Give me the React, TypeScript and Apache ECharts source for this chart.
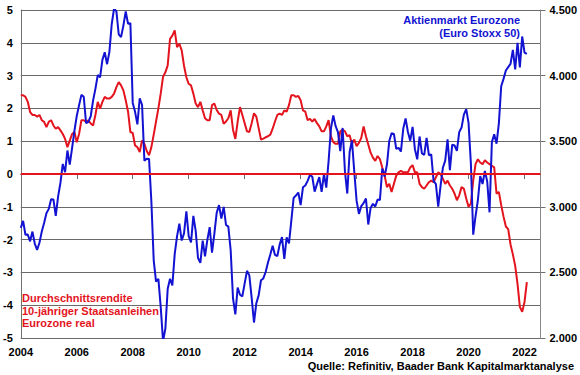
import React, { useEffect, useRef } from 'react';
import * as echarts from 'echarts';

// Monthly values, first value = January 2004
const startYear = 2004;

// Left axis: real average yield of 10-year Eurozone government bonds (%)
const realYield = [
  2.40, 2.40, 2.35, 2.20, 1.89, 1.80, 1.80, 1.75, 1.80, 1.64, 1.59, 1.43,
  1.59, 1.64, 1.48, 1.38, 1.43, 1.33, 1.22, 1.07, 0.82, 1.02, 1.22, 1.28,
  0.97, 1.22, 1.64, 1.64, 1.59, 1.64, 1.54, 1.48, 1.80, 2.20, 1.99, 2.20,
  2.35, 2.30, 2.30, 2.35, 2.45, 2.65, 2.80, 2.70, 2.55, 2.25, 1.90, 1.28,
  1.25, 0.87, 0.82, 0.67, 1.02, 0.92, 0.70, 0.57, 0.82, 1.20, 1.60, 2.00,
  2.45, 2.96, 3.10, 3.31, 4.12, 4.22, 4.38, 3.87, 3.97, 3.77, 3.30, 2.95,
  2.75, 2.70, 2.45, 2.15, 2.04, 2.20, 1.94, 1.70, 1.64, 1.64, 2.10, 2.15,
  1.95, 1.84, 1.80, 1.53, 1.60, 1.70, 1.94, 1.35, 1.07, 1.60, 2.04, 1.80,
  1.55, 1.30, 1.28, 1.55, 1.85, 1.75, 1.40, 1.05, 1.08, 1.12, 1.15, 1.20,
  1.38, 1.60, 1.80, 1.84, 1.80, 1.94, 1.90, 2.10, 2.40, 2.40, 2.35, 2.38,
  2.25, 1.94, 1.90, 1.64, 1.68, 1.60, 1.68, 1.55, 1.45, 1.30, 1.30, 1.45,
  1.64, 1.15, 0.97, 0.92, 0.92, 1.30, 1.35, 1.30, 1.15, 1.18, 0.92, 1.05,
  0.85, 0.95, 1.10, 1.45, 1.15, 0.90, 0.65, 0.50, 0.40, 0.55, 0.45, 0.20,
  -0.04, -0.40, -0.30, -0.55, -0.30, -0.05, 0.05, 0.10, 0.05, 0.05, 0.05, 0.20,
  0.27, 0.05, 0.05, -0.30, -0.40, -0.45, -0.35, -0.25, -0.20, -0.25, -0.10, 0.05,
  0.00, -0.15, -0.30, -0.20, -0.35, -0.45, -0.60, -0.80, -0.65, -0.40, -0.45, -0.75,
  -1.00, -0.90, -0.20, 0.30, 0.45, 0.35, 0.30, 0.42, 0.35, 0.30, 0.25, 0.20,
  -0.60, -0.55, -0.95, -1.30, -1.60, -1.68, -2.15, -2.45, -2.80, -3.35, -4.05, -4.20,
  -3.90, -3.30,
];

// Right axis: Euro Stoxx 50 index points
const euroStoxx = [
  2839, 2893, 2787, 2788, 2737, 2811, 2720, 2671, 2726, 2811, 2876, 2951,
  2984, 3058, 3056, 2930, 3077, 3182, 3327, 3264, 3429, 3322, 3448, 3579,
  3692, 3775, 3853, 3839, 3637, 3648, 3692, 3809, 3899, 4004, 3987, 4120,
  4178, 4087, 4181, 4393, 4512, 4489, 4315, 4294, 4381, 4489, 4394, 4400,
  3792, 3724, 3628, 3826, 3778, 3352, 3367, 3365, 3038, 2592, 2430, 2451,
  2237, 1976, 2071, 2375, 2451, 2401, 2639, 2775, 2872, 2743, 2797, 2966,
  2776, 2728, 2931, 2817, 2610, 2573, 2742, 2623, 2748, 2845, 2650, 2793,
  2954, 3013, 2911, 2999, 2862, 2849, 2669, 2303, 2180, 2385, 2330, 2317,
  2416, 2512, 2477, 2306, 2118, 2265, 2325, 2440, 2454, 2503, 2575, 2636,
  2703, 2633, 2624, 2712, 2769, 2603, 2768, 2721, 2893, 3068, 3086, 3109,
  3013, 3149, 3162, 3198, 3244, 3229, 3116, 3173, 3226, 3114, 3251, 3146,
  3351, 3599, 3697, 3615, 3570, 3424, 3601, 3270, 3101, 3418, 3506, 3268,
  3045, 2946, 3005, 3028, 3063, 2865, 2991, 3023, 3002, 3055, 3052, 3291,
  3231, 3320, 3501, 3560, 3555, 3442, 3449, 3421, 3595, 3674, 3570, 3504,
  3609, 3439, 3362, 3536, 3407, 3396, 3525, 3393, 3399, 3197, 3173, 3001,
  3159, 3298, 3352, 3514, 3280, 3474, 3467, 3427, 3569, 3604, 3703, 3745,
  3640, 3329, 2787, 2928, 3050, 3234, 3174, 3273, 3194, 2958, 3493, 3553,
  3481, 3636, 3919, 3975, 4039, 4064, 4089, 4196, 4048, 4250, 4063, 4298,
  4175, 4165,
];

const yearTicks = [2004, 2006, 2008, 2010, 2012, 2014, 2016, 2018, 2020, 2022];
const blueLabel = ['Aktienmarkt Eurozone', '(Euro Stoxx 50)'];
const redLabel = ['Durchschnittsrendite', '10-jähriger Staatsanleihen', 'Eurozone real'];
const sourceText = 'Quelle: Refinitiv, Baader Bank Kapitalmarktanalyse';

const FONT = "'Liberation Sans', Arial, Helvetica, sans-serif";
const RED = '#E3141E';
const BLUE = '#1212D2';

export default function App() {
  const ref = useRef<HTMLDivElement>(null);

  useEffect(() => {
    if (!ref.current) return;
    const chart = echarts.init(ref.current, undefined, { renderer: 'svg' });
    const toX = (i: number) => startYear + i / 12;
    const labelStyle = { fontFamily: FONT, fontWeight: 'bold' as const, fontSize: 11, color: '#000' };

    const graphic: any[] = [];
    blueLabel.forEach((t, k) => {
      graphic.push({
        type: 'text', x: 520, y: 20 + k * 12.5,
        style: { text: t, fill: BLUE, font: `bold 11px ${FONT}`, align: 'right', verticalAlign: 'middle' },
      });
    });
    redLabel.forEach((t, k) => {
      graphic.push({
        type: 'text', x: 22, y: 298 + k * 12.5,
        style: { text: t, fill: RED, font: `bold 11px ${FONT}`, align: 'left', verticalAlign: 'middle' },
      });
    });
    graphic.push({
      type: 'text', x: 574, y: 366,
      style: { text: sourceText, fill: '#000', font: `bold 11px ${FONT}`, align: 'right', verticalAlign: 'middle' },
    });

    chart.setOption({
      animation: false,
      backgroundColor: '#fff',
      grid: { left: 20, right: 39, top: 10, bottom: 37, containLabel: false },
      xAxis: {
        type: 'value',
        min: 2004,
        max: 2022.57,
        interval: 2,
        splitLine: { show: false },
        axisLine: { show: true, lineStyle: { color: '#707070', width: 1 } },
        axisTick: { show: true, inside: false, length: 5, lineStyle: { color: '#707070' }, customValues: yearTicks },
        axisLabel: {
          ...labelStyle,
          margin: 8,
          customValues: yearTicks,
          formatter: (v: number) => (yearTicks.includes(Math.round(v * 1000) / 1000) ? String(v) : ''),
        },
      },
      yAxis: [
        {
          type: 'value',
          min: -5,
          max: 5,
          interval: 1,
          position: 'left',
          axisLine: { show: true, onZero: false, lineStyle: { color: '#707070', width: 1 } },
          axisTick: { show: false },
          splitLine: { show: true, lineStyle: { color: '#6a6a6a', width: 1 } },
          axisLabel: { ...labelStyle, margin: 8 },
        },
        {
          type: 'value',
          min: 2000,
          max: 4500,
          interval: 500,
          position: 'right',
          axisLine: { show: true, onZero: false, lineStyle: { color: '#8a8a8a', width: 1 } },
          axisTick: { show: true, inside: false, length: 5, lineStyle: { color: '#707070' } },
          splitLine: { show: false },
          axisLabel: {
            ...labelStyle,
            margin: 9,
            formatter: (v: number) => `${Math.floor(v / 1000)}.${String(v % 1000).padStart(3, '0')}`,
          },
        },
      ],
      series: [
        {
          name: 'Durchschnittsrendite',
          type: 'line',
          yAxisIndex: 0,
          data: realYield.map((v, i) => [toX(i), v]),
          showSymbol: false,
          lineStyle: { color: RED, width: 2 },
          itemStyle: { color: RED },
          z: 3,
          markLine: {
            silent: true,
            symbol: ['none', 'none'],
            label: { show: false },
            lineStyle: { color: RED, width: 2, type: 'solid' },
            data: [{ yAxis: 0 }],
          },
        },
        {
          name: 'Euro Stoxx 50',
          type: 'line',
          yAxisIndex: 1,
          data: euroStoxx.map((v, i) => [toX(i), v]),
          showSymbol: false,
          lineStyle: { color: BLUE, width: 2 },
          itemStyle: { color: BLUE },
          z: 4,
        },
      ],
      graphic,
    });

    return () => chart.dispose();
  }, []);

  return (
    <div
      ref={ref}
      style={{ position: 'absolute', left: 0, top: 0, width: 580, height: 375, background: '#fff' }}
    />
  );
}
